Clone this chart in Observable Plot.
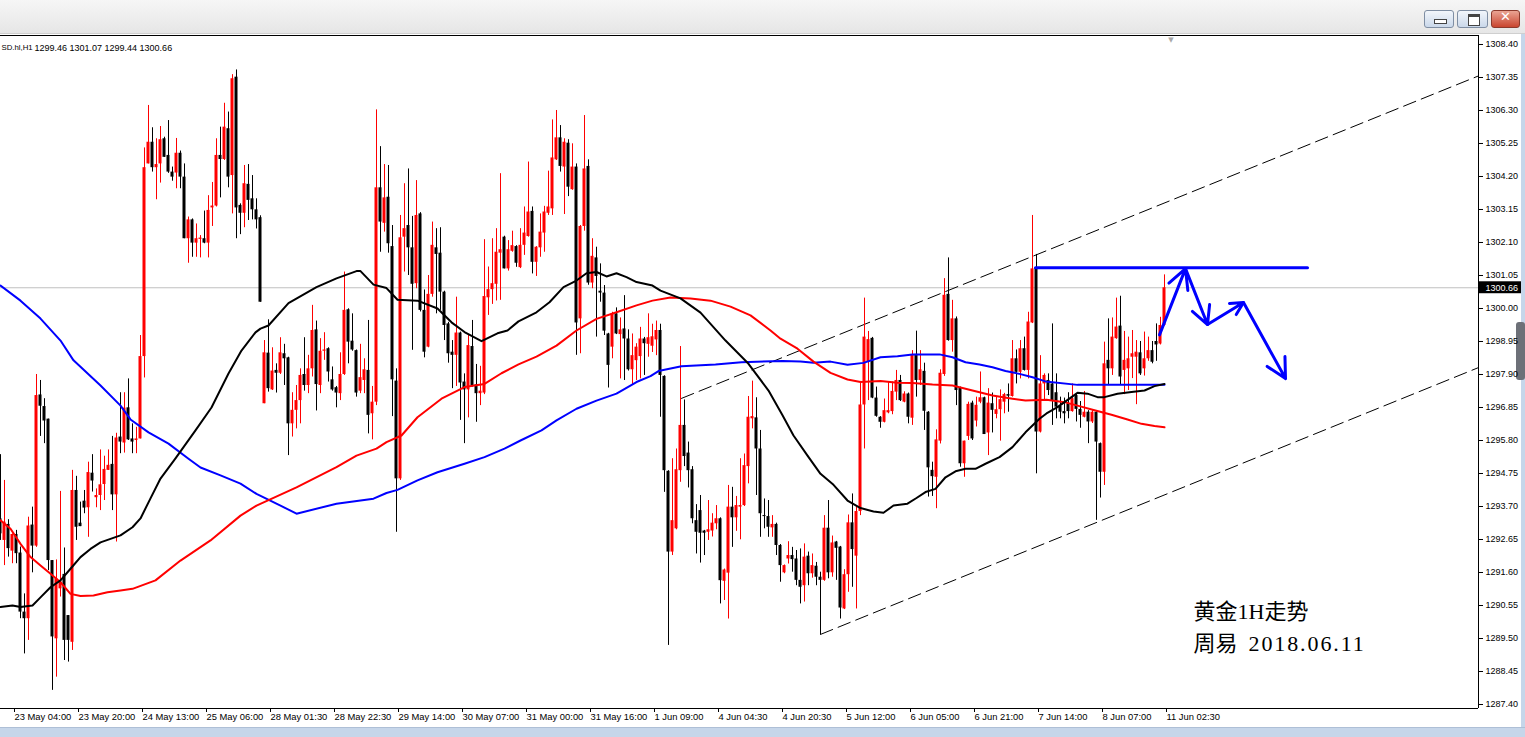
<!DOCTYPE html>
<html><head><meta charset="utf-8">
<script src="https://cdn.jsdelivr.net/npm/d3@7"></script>
<script src="https://cdn.jsdelivr.net/npm/@observablehq/plot@0.6"></script>
<style>
html,body{margin:0;padding:0;background:#fff;width:1525px;height:737px;overflow:hidden;font-family:"Liberation Sans",Arial,sans-serif;}
.c{position:absolute;box-sizing:border-box;}
#topbar{left:0;top:0;width:1525px;height:34px;background:linear-gradient(#f6f6f6,#e6e6e6);border-bottom:1px solid #cfcfcf;}
.btn{top:10px;height:18px;border:1px solid #7f8ea3;border-radius:3px;background:linear-gradient(#f2f6fb,#cad8ea);}
.btn.close{border-color:#8c3a2c;background:linear-gradient(#eaa493,#c9452f);}
#rstrip{left:1521px;top:34px;width:4px;height:693px;background:#c6d6ea;}
#bstrip{left:0;top:727px;width:1525px;height:10px;background:#c6d6ea;border-top:1px solid #aebfd6;}
#grip{left:1516px;top:322px;width:9px;height:58px;border-radius:3px;background:#6d7078;}
#chart{position:absolute;left:0;top:0;z-index:1;}
</style></head><body>
<div class="c" id="topbar"></div>
<div class="c btn" style="left:1424px;width:30px;"><div style="position:absolute;left:9px;top:8px;width:11px;height:3px;background:#fff;border:1px solid #444;"></div></div>
<div class="c btn" style="left:1457px;width:31px;"><div style="position:absolute;left:10px;top:3px;width:10px;height:8px;border:1px solid #444;border-top-width:3px;background:#fff;"></div></div>
<div class="c btn close" style="left:1491px;width:29px;"><div style="position:absolute;left:0;top:-2px;width:27px;text-align:center;color:#fff;font:bold 13px 'DejaVu Sans';">✕</div></div>
<div class="c" id="rstrip"></div>
<div class="c" id="bstrip"></div>
<div class="c" id="grip"></div>
<div id="chart"></div>
<script>
// ---- OHLC of each hourly bar (bar index = array index) ----
const barOpen=[
1293.31,1292.62,1293.13,1292.28,1292.81,1292.22,1290.34,1290.13,1293.11,1292.44,
1297.25,1296.88,1296.48,1291.98,1289.49,1291.08,1291.54,1290.23,1289.38,1294.21,
1293.17,1293.87,1293.66,1294.76,1293.98,1294.05,1294.40,1294.85,1295.04,1294.07,
1295.91,1295.72,1296.84,1295.85,1295.80,1295.85,1298.47,1304.60,1305.29,1304.48,
1304.60,1305.40,1304.87,1304.34,1304.31,1304.94,1304.18,1302.22,1302.82,1302.08,
1302.20,1302.22,1302.08,1303.20,1303.26,1304.87,1304.74,1305.72,1304.23,1307.36,
1303.28,1303.03,1303.95,1303.49,1303.14,1302.89,1296.97,1298.58,1297.41,1298.03,
1297.94,1298.56,1298.43,1296.33,1296.76,1297.07,1297.90,1297.55,1298.08,1299.32,
1297.55,1298.64,1298.72,1297.73,1297.48,1297.29,1297.90,1299.96,1298.96,1298.66,
1297.37,1297.71,1298.03,1296.65,1297.02,1303.84,1302.71,1303.54,1301.97,1297.69,
1294.58,1302.27,1302.64,1301.93,1300.79,1303.01,1299.94,1298.77,1300.45,1301.93,
1301.76,1300.52,1299.51,1298.61,1298.51,1299.22,1297.66,1297.41,1298.79,1297.57,
1297.29,1297.31,1300.34,1300.60,1300.77,1301.76,1302.27,1301.26,1301.82,1301.97,
1301.30,1302.01,1302.29,1303.09,1301.47,1301.93,1302.40,1303.03,1303.17,1304.73,
1305.43,1304.50,1305.26,1303.78,1304.50,1299.67,1302.61,1304.52,1300.81,1301.61,
1300.55,1300.49,1299.19,1298.77,1299.83,1299.17,1299.35,1299.03,1298.05,1298.34,
1298.47,1299.03,1298.86,1298.80,1299.00,1299.30,1297.84,1294.82,1292.25,1292.99,
1294.84,1296.28,1295.40,1294.87,1293.25,1293.57,1292.92,1292.88,1292.92,1293.15,
1293.31,1291.32,1291.58,1293.68,1293.34,1293.68,1293.73,1294.97,1296.49,1296.52,
1295.53,1293.41,1293.38,1293.02,1293.13,1292.46,1291.59,1292.03,1292.14,1292.03,
1291.35,1291.18,1292.12,1291.56,1291.80,1291.45,1291.35,1293.01,1291.59,1292.57,
1292.41,1290.44,1291.53,1293.18,1292.12,1293.54,1296.93,1298.29,1299.05,1297.15,
1296.54,1296.38,1296.68,1296.72,1297.34,1297.71,1297.02,1297.28,1296.51,1298.54,
1297.71,1298.00,1296.70,1294.85,1294.63,1295.78,1297.90,1300.45,1298.98,1299.67,
1297.48,1295.06,1295.93,1296.99,1296.42,1297.02,1297.16,1296.04,1296.97,1296.63,
1296.78,1297.02,1297.26,1297.20,1298.40,1297.97,1298.72,1298.03,1299.54,1301.30,
1296.07,1297.60,1297.71,1297.60,1297.32,1296.89,1296.72,1296.97,1296.72,1297.23,
1296.79,1296.54,1296.70,1296.39,1296.70,1295.70,1294.79,1298.35,1298.08,1299.04,
1299.44,1298.03,1298.08,1298.45,1298.45,1298.59,1298.08,1298.40,1298.66,1298.95,
1298.87,1299.46];
const barHigh=[
1295.35,1294.53,1293.28,1292.83,1292.94,1292.41,1290.92,1293.36,1293.68,1297.90,
1297.71,1297.13,1296.48,1291.98,1292.00,1294.18,1292.38,1290.23,1294.85,1294.66,
1293.84,1294.21,1295.11,1295.35,1294.26,1295.50,1295.30,1295.50,1295.93,1296.03,
1297.32,1297.32,1297.76,1296.33,1296.22,1299.14,1305.11,1306.46,1305.75,1305.40,
1305.79,1305.45,1305.98,1304.50,1305.41,1305.01,1304.60,1302.91,1302.85,1302.69,
1302.32,1303.10,1303.59,1304.01,1305.40,1305.77,1306.53,1306.25,1307.44,1307.59,
1303.33,1304.55,1304.58,1304.23,1303.49,1302.95,1298.98,1299.64,1298.75,1298.24,
1299.07,1298.86,1298.45,1297.32,1297.55,1298.08,1299.07,1298.51,1300.10,1299.60,
1299.04,1299.23,1298.75,1298.14,1297.52,1298.59,1301.16,1299.99,1299.83,1298.68,
1298.86,1298.40,1299.62,1297.52,1306.32,1305.15,1304.58,1304.55,1302.64,1298.08,
1302.96,1303.97,1304.44,1302.93,1304.07,1303.05,1300.59,1301.05,1302.75,1302.54,
1302.57,1300.55,1299.56,1298.98,1300.36,1299.25,1297.92,1299.14,1299.62,1298.22,
1298.16,1302.19,1301.32,1302.22,1302.54,1304.29,1302.30,1302.16,1302.46,1302.00,
1302.54,1303.23,1304.66,1303.23,1301.97,1303.01,1303.25,1304.37,1306.00,1306.30,
1305.82,1305.40,1305.37,1305.24,1304.60,1302.64,1306.14,1304.73,1302.22,1301.95,
1301.42,1300.73,1299.21,1299.88,1300.02,1299.70,1300.41,1299.32,1299.19,1298.88,
1299.40,1299.08,1299.83,1299.50,1299.60,1299.50,1297.86,1294.84,1295.22,1295.53,
1298.79,1297.09,1295.75,1294.97,1293.76,1294.05,1292.94,1293.89,1293.47,1293.73,
1293.34,1291.71,1294.37,1294.31,1294.02,1295.22,1295.37,1297.20,1297.69,1297.16,
1296.12,1293.94,1293.89,1293.41,1293.17,1292.49,1291.84,1292.58,1292.40,1292.30,
1292.35,1292.51,1292.25,1292.19,1291.92,1291.61,1293.41,1293.89,1292.76,1292.59,
1292.43,1291.69,1293.43,1294.10,1293.68,1297.68,1300.33,1299.27,1299.08,1297.50,
1296.56,1297.12,1297.66,1297.66,1298.03,1297.87,1297.35,1297.31,1298.66,1299.28,
1298.66,1298.26,1296.72,1295.11,1296.14,1298.05,1300.95,1301.61,1300.26,1299.73,
1297.50,1295.78,1297.02,1297.05,1297.18,1297.98,1297.18,1297.45,1297.31,1297.18,
1297.41,1297.30,1297.60,1298.98,1298.68,1298.98,1299.09,1299.88,1302.96,1301.72,
1298.50,1297.92,1297.92,1299.51,1297.92,1297.18,1297.15,1297.32,1297.60,1297.28,
1297.04,1297.36,1296.75,1296.75,1296.72,1295.72,1298.93,1299.67,1299.70,1300.33,
1300.39,1299.27,1299.09,1299.30,1298.98,1298.95,1299.25,1299.09,1298.95,1299.51,
1299.72,1301.07];
const barLow=[
1292.62,1291.82,1292.09,1291.88,1291.88,1290.13,1289.01,1289.44,1291.59,1292.40,
1295.93,1295.70,1291.66,1287.85,1288.27,1290.82,1288.80,1288.75,1289.12,1292.62,
1293.06,1293.47,1292.72,1294.16,1293.66,1293.57,1293.89,1294.85,1293.57,1292.57,
1295.38,1295.40,1295.80,1295.38,1295.38,1295.85,1297.79,1304.60,1304.34,1303.46,
1303.99,1304.81,1304.30,1304.05,1303.81,1303.81,1302.22,1301.44,1301.63,1301.63,
1301.61,1302.06,1301.61,1302.61,1303.23,1303.52,1304.71,1303.84,1303.01,1302.22,
1302.35,1302.57,1302.80,1302.82,1302.53,1300.20,1296.97,1297.34,1297.39,1297.31,
1297.90,1297.55,1295.32,1295.91,1296.17,1296.33,1297.37,1297.29,1297.82,1296.74,
1297.29,1298.35,1297.66,1297.37,1296.84,1297.07,1297.87,1298.24,1298.64,1297.18,
1297.29,1297.29,1296.01,1295.82,1296.91,1301.79,1302.43,1301.76,1296.56,1292.88,
1294.53,1301.16,1301.05,1298.67,1300.63,1299.89,1298.43,1298.75,1300.36,1299.83,
1299.94,1298.98,1298.26,1297.45,1297.52,1296.44,1295.70,1296.52,1297.50,1296.38,
1296.91,1297.26,1299.78,1300.13,1300.24,1300.26,1301.26,1301.19,1301.79,1301.31,
1301.27,1301.69,1302.27,1301.10,1301.02,1301.63,1301.79,1302.96,1302.96,1304.71,
1304.34,1302.99,1303.56,1303.76,1298.51,1298.56,1302.46,1300.74,1300.63,1299.09,
1300.20,1299.14,1297.47,1298.40,1299.17,1297.76,1297.71,1298.01,1297.58,1297.71,
1297.76,1297.87,1298.45,1298.60,1298.50,1296.54,1294.15,1289.28,1292.14,1292.96,
1294.47,1294.97,1294.29,1293.15,1292.19,1291.90,1292.14,1292.62,1292.73,1292.96,
1290.60,1290.71,1290.12,1292.40,1292.91,1292.64,1293.70,1294.42,1296.17,1294.05,
1292.72,1292.99,1292.72,1292.72,1292.14,1291.29,1291.56,1291.87,1291.61,1291.18,
1290.60,1290.66,1291.18,1291.42,1291.18,1289.62,1291.32,1291.40,1291.45,1291.35,
1290.12,1290.42,1290.97,1291.13,1290.44,1293.41,1295.53,1297.07,1297.13,1296.54,
1296.19,1296.36,1296.65,1296.62,1297.07,1297.04,1297.00,1296.33,1296.28,1297.18,
1297.55,1296.12,1294.00,1294.02,1293.63,1295.69,1297.84,1298.96,1298.61,1296.91,
1294.95,1294.63,1295.80,1295.80,1296.23,1296.97,1295.99,1295.32,1296.04,1296.49,
1295.78,1296.65,1296.70,1297.18,1297.60,1297.76,1298.01,1297.76,1299.52,1294.74,
1296.04,1297.09,1297.23,1296.28,1296.49,1296.49,1296.33,1296.49,1296.70,1296.39,
1296.19,1296.52,1295.70,1296.34,1293.26,1293.97,1294.37,1297.55,1297.87,1299.02,
1297.55,1297.26,1297.39,1297.77,1296.94,1297.87,1297.85,1298.32,1298.24,1298.32,
1298.84,1299.44];
const barClose=[
1292.83,1293.20,1292.36,1292.81,1292.20,1290.34,1290.13,1293.08,1292.44,1297.23,
1296.89,1296.42,1291.98,1289.55,1291.40,1291.30,1289.44,1289.44,1294.21,1293.04,
1293.06,1293.65,1294.78,1294.51,1294.05,1294.39,1294.88,1295.01,1294.07,1295.88,
1295.75,1296.83,1295.82,1295.75,1295.85,1298.47,1304.48,1305.29,1304.48,1304.58,
1305.37,1304.81,1304.34,1304.18,1304.94,1304.18,1302.22,1302.82,1302.08,1302.22,
1302.24,1302.08,1303.12,1303.26,1304.87,1304.74,1305.77,1304.18,1307.31,1303.20,
1303.03,1303.97,1303.44,1303.14,1302.82,1300.20,1298.59,1297.45,1298.01,1297.94,
1298.59,1298.40,1296.33,1296.76,1297.07,1297.87,1297.55,1298.08,1299.30,1297.58,
1298.64,1298.68,1297.98,1297.41,1297.31,1297.90,1299.94,1298.93,1298.68,1297.31,
1297.80,1298.05,1296.60,1297.02,1303.84,1302.75,1303.52,1302.06,1297.73,1294.58,
1302.25,1302.54,1301.93,1300.77,1302.96,1299.94,1298.61,1300.45,1302.01,1301.72,
1300.52,1299.46,1298.56,1298.51,1299.22,1297.63,1297.41,1298.82,1297.55,1297.29,
1297.37,1300.38,1300.60,1300.79,1301.79,1301.87,1301.26,1301.87,1302.00,1301.44,
1302.01,1302.40,1303.07,1301.47,1301.95,1302.43,1303.07,1303.23,1304.79,1305.43,
1304.52,1305.29,1303.86,1304.50,1299.54,1302.61,1304.44,1300.81,1301.66,1301.02,
1300.49,1299.28,1298.19,1299.83,1299.19,1299.32,1299.03,1298.05,1298.50,1298.77,
1299.03,1298.88,1299.07,1299.10,1299.30,1297.87,1294.84,1292.25,1293.25,1294.87,
1296.28,1295.29,1294.84,1293.31,1292.88,1292.85,1292.85,1292.96,1293.17,1293.31,
1291.34,1291.68,1293.68,1293.34,1293.73,1293.73,1295.00,1296.54,1296.56,1295.53,
1293.47,1293.38,1293.04,1293.13,1292.46,1291.82,1291.82,1292.14,1292.01,1291.35,
1291.13,1292.09,1291.56,1291.82,1291.45,1291.35,1293.01,1291.59,1292.54,1292.37,
1290.47,1291.53,1293.18,1292.33,1293.54,1296.93,1299.09,1299.01,1297.15,1296.57,
1296.38,1296.75,1296.75,1297.36,1297.71,1297.07,1297.28,1296.54,1298.52,1297.71,
1298.05,1296.73,1294.93,1294.65,1295.82,1297.94,1300.42,1298.98,1299.67,1297.39,
1295.06,1295.78,1296.95,1295.85,1296.92,1297.16,1295.99,1296.99,1296.76,1296.78,
1297.10,1297.26,1297.21,1298.40,1297.97,1298.72,1298.03,1299.57,1301.26,1296.07,
1297.60,1297.87,1297.39,1297.07,1296.86,1296.70,1296.65,1296.72,1297.13,1296.79,
1296.60,1296.70,1296.39,1296.70,1295.75,1294.79,1298.24,1298.08,1299.09,1299.41,
1297.82,1298.35,1298.40,1298.56,1298.61,1297.92,1298.40,1298.66,1298.29,1298.84,
1299.46,1300.66];

// ---- time axis labels (bar index of each label) ----
const tickBars=[3,19,35,51,67,83,99,115,131,147,163,179,195,211,227,243,259,275,291];
const tickLabels=["23 May 04:00","23 May 20:00","24 May 13:00","25 May 06:00","28 May 01:30","28 May 22:30","29 May 14:00","30 May 07:00","31 May 00:00","31 May 16:00","1 Jun 09:00","4 Jun 04:30","4 Jun 20:30","5 Jun 12:00","6 Jun 05:00","6 Jun 21:00","7 Jun 14:00","8 Jun 07:00","11 Jun 02:30"];
const priceTicks=[1287.40,1288.45,1289.50,1290.55,1291.60,1292.65,1293.70,1294.75,1295.80,1296.85,1297.90,1298.95,1300.00,1301.05,1302.10,1303.15,1304.20,1305.25,1306.30,1307.35,1308.40];

// ---- moving averages (bar index, price) ----
const maBlackBars=[0,3,5,8,10,12.5,15,17.5,20,22.5,25,27.5,30,33,35,37.5,40,43.75,48.75,52.75,57,60.25,63.75,65,67,72,79,84,89,90,93.25,96.5,99.25,104.25,109.25,112.75,116,120.25,124.25,126.75,129.5,134,137.25,140.75,144,146.5,149,151.5,154,156.5,159,163,165,170,175,181.25,187,192,195.5,198.25,201.75,205,208.25,211.75,215,218.25,220.75,223.25,226.75,229,231.25,233.75,236.25,238.75,241.25,243.75,246.25,249.75,253,256.25,259.75,261.5,264.25,267.75,269.25,271.75,274.25,276,279.25,282.75,286,288.5,291];
const maBlackPrices=[1290.50,1290.55,1290.50,1290.55,1290.81,1291.13,1291.35,1291.72,1292.09,1292.35,1292.56,1292.67,1292.78,1293.04,1293.32,1293.96,1294.59,1295.23,1296.12,1296.85,1297.93,1298.66,1299.24,1299.36,1299.46,1300.17,1300.68,1300.96,1301.19,1301.19,1300.76,1300.65,1300.28,1300.25,1300.00,1299.56,1299.25,1298.96,1299.21,1299.30,1299.59,1299.88,1300.20,1300.68,1300.89,1301.12,1301.16,1301.02,1301.12,1301.00,1300.84,1300.73,1300.57,1300.32,1299.87,1298.98,1298.24,1297.39,1296.60,1295.96,1295.32,1294.74,1294.39,1293.89,1293.65,1293.54,1293.50,1293.73,1293.79,1293.97,1294.16,1294.26,1294.63,1294.82,1294.90,1294.90,1295.06,1295.27,1295.59,1296.06,1296.49,1296.66,1296.86,1297.18,1297.32,1297.29,1297.18,1297.18,1297.29,1297.34,1297.39,1297.53,1297.60];
const maRedBars=[0,2.5,5,7.5,10,12.5,15,17.5,20,23.25,26.75,30,33,38.75,45,52.5,60,64,74,84,89,94,96.5,100.25,104.25,110.25,116,121,125.25,129.5,134,139,144,149,154,159,163,167.5,172.5,177.5,182.5,187.5,192.5,195,199.25,203.25,207.5,211.75,215,220,224.25,228,233,238,243,248,253,256.25,261.5,266,269.25,273.5,277.75,281.75,285.25,288.5,291];
const maRedPrices=[1293.26,1292.99,1292.51,1292.09,1291.82,1291.56,1291.29,1290.92,1290.85,1290.87,1290.97,1291.03,1291.08,1291.35,1291.98,1292.62,1293.41,1293.73,1294.31,1294.95,1295.32,1295.54,1295.75,1295.96,1296.54,1297.13,1297.50,1297.60,1297.94,1298.22,1298.47,1298.82,1299.30,1299.67,1299.88,1300.10,1300.25,1300.35,1300.32,1300.25,1300.06,1299.78,1299.30,1299.04,1298.72,1298.31,1297.95,1297.74,1297.66,1297.69,1297.64,1297.63,1297.58,1297.55,1297.39,1297.23,1297.13,1297.07,1297.10,1297.02,1296.91,1296.76,1296.62,1296.47,1296.33,1296.26,1296.22];
const maBlueBars=[0,5,10,15,18.25,25,30,32.5,37,42,47,50,55,60,64,70,74,84,93.25,96.5,99.25,104.25,109.25,116,121,126,130,135.25,139,144,149,154,159,162.5,164.5,170.25,178.75,185.25,195.5,200,203.25,207.5,211.75,215.75,220,224.25,228,234.75,238,241.25,244.75,248,251.25,254.75,258,261.25,269.25,291];
const maBluePrices=[1300.73,1300.25,1299.68,1298.98,1298.35,1297.55,1296.91,1296.47,1296.06,1295.70,1295.22,1294.94,1294.69,1294.43,1294.10,1293.73,1293.47,1293.79,1293.95,1294.13,1294.23,1294.53,1294.79,1295.06,1295.27,1295.54,1295.80,1296.12,1296.44,1296.81,1297.07,1297.29,1297.66,1297.85,1298.01,1298.16,1298.22,1298.29,1298.33,1298.31,1298.27,1298.31,1298.21,1298.27,1298.45,1298.48,1298.54,1298.54,1298.45,1298.29,1298.22,1298.13,1298.01,1297.92,1297.81,1297.68,1297.57,1297.57];

// ---- drawn objects (bar index, price) ----
const channelUpperBars=[170.25,369.5], channelUpperPrices=[1297.14,1307.40];
const channelLowerBars=[205,369.5],   channelLowerPrices=[1289.63,1298.12];
const levelBars=[258.75,326.75], levelPrice=1301.30;
const arrowBars=[289.75,296.25,301.75,310.75,321.25];
const arrowPrices=[1299.16,1301.27,1299.49,1300.19,1297.77];
const noteTexts=["黄金1H走势","周易  2018.06.11"];
const noteBars=[298.25,298.25];
const notePrices=[1290.33,1289.34];
const symbolName="SD.hl,H1";

if([barHigh,barLow,barClose].some(a=>a.length!==barOpen.length)) throw new Error("OHLC length mismatch");

const candles=barOpen.map((o,i)=>{
  const c=barClose[i], top=Math.max(o,c), bot=Math.min(o,c);
  const pad=top-bot<0.032?(0.032-(top-bot))/2:0;
  return {j:i,o,h:barHigh[i],l:barLow[i],c,up:c>o,top:top+pad,bot:bot-pad};
});
const bulls=candles.filter(d=>d.up), bears=candles.filter(d=>!d.up);
const toLine=(bars,prices)=>bars.map((b,i)=>({j:b,p:prices[i]}));
const last=candles[candles.length-1];
const xMax=369.5, yMin=1287.273, yMax=1308.686;
const labelMap=new Map(tickBars.map((b,i)=>[b,tickLabels[i]]));
const arrowSegs=arrowBars.slice(1).map((b,i)=>({x1:arrowBars[i],y1:arrowPrices[i],x2:b,y2:arrowPrices[i+1]}));
const notes=noteTexts.map((t,i)=>({t,j:noteBars[i],p:notePrices[i]}));
const ohlcText=[last.o,last.h,last.l,last.c].map(v=>v.toFixed(2)).join(" ");

const RED="#ff0000", FONT="Liberation Sans";
const chart=Plot.plot({
  width:1525,height:737,marginLeft:0,marginRight:47,marginTop:35,marginBottom:29,
  style:{background:"transparent",fontFamily:FONT,fontSize:"9px",color:"#000"},
  x:{type:"linear",domain:[0,xMax],range:[0,1478],axis:null},
  y:{type:"linear",domain:[yMin,yMax],range:[708,35],axis:null},
  marks:[
    Plot.ruleY([last.c],{stroke:"#c0c0c0",strokeWidth:1}),
    Plot.line(toLine(channelUpperBars,channelUpperPrices),{x:"j",y:"p",stroke:"#000",strokeWidth:1,strokeDasharray:"13,6"}),
    Plot.line(toLine(channelLowerBars,channelLowerPrices),{x:"j",y:"p",stroke:"#000",strokeWidth:1,strokeDasharray:"13,6"}),
    Plot.ruleX(bears,{x:"j",y1:"l",y2:"h",stroke:"#000",strokeWidth:1}),
    Plot.ruleX(bulls,{x:"j",y1:"l",y2:"h",stroke:RED,strokeWidth:1}),
    Plot.rect(bears,{x1:d=>d.j-0.375,x2:d=>d.j+0.375,y1:"bot",y2:"top",fill:"#000"}),
    Plot.rect(bulls,{x1:d=>d.j-0.375,x2:d=>d.j+0.375,y1:"bot",y2:"top",fill:RED}),
    Plot.line(toLine(maBlueBars,maBluePrices),{x:"j",y:"p",stroke:"#0000ff",strokeWidth:2}),
    Plot.line(toLine(maRedBars,maRedPrices),{x:"j",y:"p",stroke:RED,strokeWidth:2}),
    Plot.line(toLine(maBlackBars,maBlackPrices),{x:"j",y:"p",stroke:"#000",strokeWidth:2}),
    Plot.line(levelBars.map(b=>({j:b,p:levelPrice})),{x:"j",y:"p",stroke:"#0000ff",strokeWidth:3}),
    Plot.arrow(arrowSegs,{x1:"x1",y1:"y1",x2:"x2",y2:"y2",stroke:"#0000ff",strokeWidth:3,headLength:11,headAngle:55}),
    Plot.text(notes,{x:"j",y:"p",text:"t",textAnchor:"start",fontSize:22,fontFamily:"Liberation Serif, Noto Sans CJK SC",fill:"#000",className:"note"}),
    // frame (top, bottom, right)
    Plot.ruleY([yMin,yMax],{stroke:"#000",strokeWidth:1}),
    Plot.ruleX([xMax],{y1:yMin,y2:yMax,stroke:"#000",strokeWidth:1}),
    // axes
    Plot.axisX({ticks:tickBars,tickFormat:d=>labelMap.get(d),tickSize:4,tickPadding:1,textAnchor:"start",dx:2,fontSize:9.4,fontFamily:FONT,anchor:"bottom",label:null}),
    Plot.axisY({anchor:"right",ticks:priceTicks,tickFormat:d=>d.toFixed(2),tickSize:4,tickPadding:3,fontSize:9,fontFamily:FONT,label:null}),
    // current price tag
    Plot.rect([last],{x1:xMax+0.25,x2:xMax+10.75,y1:d=>d.c-0.19,y2:d=>d.c+0.19,fill:"#000"}),
    Plot.text([last],{x:xMax,y:"c",text:d=>d.c.toFixed(2),dx:7,textAnchor:"start",fill:"#fff",fontSize:9,fontFamily:FONT}),
    // header
    Plot.text([symbolName],{frameAnchor:"top-left",dx:1,dy:9,textAnchor:"start",fontSize:7.8,fontFamily:FONT,fill:"#000"}),
    Plot.text([ohlcText],{frameAnchor:"top-left",dx:34,dy:9,textAnchor:"start",fontSize:9,fontFamily:FONT,fill:"#000"}),
    Plot.text(["▼"],{x:last.j+1.6,frameAnchor:"top",dy:2,fontSize:7,fill:"#a8a8a8",fontFamily:"DejaVu Sans"})
  ]
});
// SimSun-like half-width latin: widen spacing only for the digits part of the annotation
chart.querySelectorAll("g.note text").forEach(t=>{
  const s=t.textContent, m=s.match(/^(\D*?)(\s*)(\d[\d.]*)$/);
  if(!m) return;
  t.textContent="";
  const ns="http://www.w3.org/2000/svg";
  const a=document.createElementNS(ns,"tspan"); a.textContent=m[1]+m[2]; t.appendChild(a);
  const b=document.createElementNS(ns,"tspan"); b.textContent=m[3]; b.setAttribute("letter-spacing","1.9"); t.appendChild(b);
});
document.getElementById("chart").appendChild(chart);
</script>
</body></html>
